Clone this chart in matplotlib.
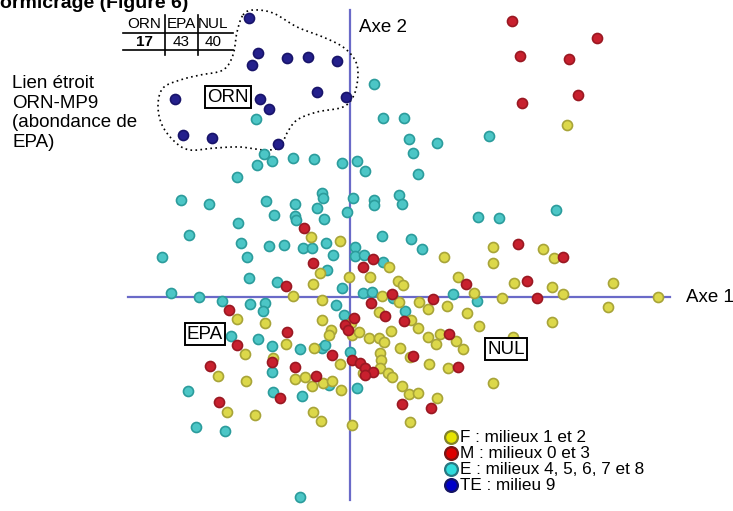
import numpy as np
import matplotlib
matplotlib.use("Agg")
import matplotlib.pyplot as plt

plt.rcParams['font.family'] = ['Liberation Sans', 'DejaVu Sans']

# factor scores (axis 1, axis 2), one list per group of milieux
te_pts = [(-101, 279), (-92, 244), (-98, 232), (-63, 239), (-42, 240), (-13, 236),
          (-33, 205), (-4, 200), (-175, 198), (-90, 198), (-81, 188), (-167, 162),
          (-138, 159), (-72, 153)]

m_pts = [(162, 276), (247, 259), (170, 241), (219, 238), (228, 202), (172, 194),
         (168, 53), (-46, 69), (-37, 34), (-64, 11), (-121, -13), (-5, -28),
         (-2, -33), (-63, -35), (-113, -48), (-18, -58), (-78, -65), (-140, -69),
         (-55, -70), (2, -63), (10, -66), (15, -71), (23, 38), (13, 30), (213, 40),
         (116, 13), (177, 16), (42, 3), (21, -6), (83, -2), (187, -1), (35, -19),
         (54, -24), (4, -21), (99, -37), (63, -59), (108, -70), (23, -75),
         (15, -78), (52, -107), (81, -111), (-34, -79), (-70, -101), (-131, -105)]

f_pts = [(217, 172), (143, 50), (193, 48), (-39, 60), (-10, 56), (-30, 24), (-1, 20),
         (-37, 13), (-57, 1), (-28, -3), (-113, -22), (-85, -26), (-28, -23), (1, -26),
         (-19, -33), (-21, -38), (2, -38), (-64, -47), (-36, -51), (-105, -57),
         (-77, -61), (-10, -67), (39, 30), (20, 20), (94, 40), (143, 34), (204, 39),
         (108, 20), (48, 16), (53, 12), (164, 14), (202, 10), (263, 14), (32, 1),
         (49, -5), (69, -5), (124, 4), (152, -1), (213, 3), (308, 0), (258, -10),
         (97, -9), (78, -12), (29, -15), (61, -23), (117, -16), (202, -25), (129, -29),
         (9, -35), (41, -34), (68, -31), (19, -41), (29, -41), (34, -45), (78, -40),
         (90, -37), (86, -47), (106, -44), (113, -52), (163, -40), (50, -51), (30, -56),
         (31, -63), (60, -60), (79, -67), (98, -71), (30, -71), (13, -76), (38, -76),
         (42, -80), (52, -89), (59, -97), (68, -96), (87, -101), (60, -125), (2, -128),
         (143, -86), (-132, -79), (-104, -84), (-55, -82), (-45, -80), (-38, -89),
         (-27, -86), (-18, -84), (-9, -93), (-123, -115), (-95, -118), (-37, -115),
         (-29, -124)]

e_pts = [(24, 213), (33, 179), (54, 179), (59, 158), (87, 154), (139, 161), (63, 144),
         (7, 136), (15, 126), (68, 123), (3, 99), (24, 97), (24, 92), (49, 102),
         (52, 93), (128, 80), (149, 79), (206, 87), (32, 61), (61, 58), (5, 50),
         (72, 48), (-94, 178), (-86, 143), (-78, 136), (-93, 132), (-57, 139),
         (-36, 138), (-8, 134), (-113, 120), (-169, 97), (-141, 93), (-84, 96),
         (-55, 93), (-28, 104), (-27, 99), (-33, 89), (-3, 85), (-76, 82), (-55, 81),
         (-54, 77), (-26, 78), (-112, 74), (-161, 62), (-24, 54), (-109, 54), (-81, 51),
         (-66, 52), (-47, 49), (-38, 49), (-188, 40), (-103, 40), (-17, 42), (-23, 27),
         (-101, 19), (-73, 15), (-8, 9), (-179, 4), (-151, 0), (-128, -4), (-100, -7),
         (-85, -6), (-14, -8), (-87, -14), (-6, -18), (-119, -39), (-92, -42),
         (-78, -49), (-50, -52), (-28, -51), (-25, -48), (0, -55), (5, 41), (14, 42),
         (33, 35), (13, 4), (22, 5), (43, -1), (103, 3), (127, -4), (55, -14), (7, -91),
         (-78, -75), (-21, -88), (-162, -94), (-77, -95), (-48, -99), (-154, -130),
         (-125, -134), (-50, -200)]

# dotted envelope around the ORN group
orn_zone = [(-107, 282), (-97, 287), (-77, 284), (-53, 270), (-27, 260), (-7, 250),
            (5, 237), (8, 222), (4, 202), (-7, 190), (-33, 185), (-53, 177), (-63, 164),
            (-70, 150), (-85, 147), (-110, 150), (-135, 149), (-160, 147), (-175, 155),
            (-188, 172), (-192, 192), (-187, 209), (-170, 217), (-150, 222), (-127, 227),
            (-117, 242), (-113, 265)]

table_head = ["ORN", "EPA", "NUL"]
table_vals = ["17", "43", "40"]

legend_labels = ["F : milieux 1 et 2", "M : milieux 0 et 3",
                 "E : milieux 4, 5, 6, 7 et 8", "TE : milieu 9"]


def smooth_closed(pts, n=20):
    # closed Catmull-Rom curve through the envelope vertices
    p = np.array(pts, dtype=float)
    out = []
    k = len(p)
    for i in range(k):
        p0, p1, p2, p3 = p[i - 1], p[i], p[(i + 1) % k], p[(i + 2) % k]
        for t in np.linspace(0, 1, n, endpoint=False):
            t2, t3 = t * t, t * t * t
            out.append(0.5 * ((2 * p1) + (-p0 + p2) * t +
                              (2 * p0 - 5 * p1 + 4 * p2 - p3) * t2 +
                              (-p0 + 3 * p1 - 3 * p2 + p3) * t3))
    out.append(out[0])
    return np.array(out)


fig = plt.figure(figsize=(7.33, 5.11), dpi=100)
ax = fig.add_axes([0, 0, 1, 1])
ax.set_xlim(-350, 383)
ax.set_ylim(-214, 297)
ax.axis('off')

# factorial axes
axis_col = '#6a6ac8'
ax.plot([0, 0], [-203, 287], color=axis_col, lw=1.6, zorder=1)
ax.plot([-222, 320], [0, 0], color=axis_col, lw=1.6, zorder=1)

groups = [
    (e_pts, '#4cc6c6', '#2b9c9c'),
    (f_pts, '#dcd84a', '#a8a438'),
    (m_pts, '#c8202e', '#9a1822'),
    (te_pts, '#24208c', '#18146a'),
]
for pts, fc, ec in groups:
    xy = np.array(pts)
    ax.scatter(xy[:, 0], xy[:, 1], s=52, facecolor=fc, edgecolor=ec,
               linewidth=1.2, zorder=3)

zone = smooth_closed(orn_zone)
ax.plot(zone[:, 0], zone[:, 1], color='black', lw=1.2, ls=(0, (1, 2)), zorder=2)

# labels
ax.text(-350, 289, "ormicrage (Figure 6)", fontsize=14, fontweight='bold',
        va='baseline', ha='left')
ax.text(9, 270, "Axe 2", fontsize=13.5, va='center', ha='left')
ax.text(336, 0, "Axe 1", fontsize=13.5, va='center', ha='left')
ax.text(-338, 222, "Lien étroit\nORN-MP9\n(abondance de\nEPA)", fontsize=13.5,
        va='top', ha='left', linespacing=1.2)

box = dict(boxstyle='square,pad=0.12', facecolor='white', edgecolor='black', lw=1.4)
ax.text(-122, 200, "ORN", fontsize=13.5, ha='center', va='center', bbox=box, zorder=4)
ax.text(-145, -37, "EPA", fontsize=13.5, ha='center', va='center', bbox=box, zorder=4)
ax.text(156, -52, "NUL", fontsize=13.5, ha='center', va='center', bbox=box, zorder=4)

# small count table
col_x = [-206, -169, -137]
for cx, h, v in zip(col_x, table_head, table_vals):
    ax.text(cx, 273, h, fontsize=11, ha='center', va='center')
    ax.text(cx, 255, v, fontsize=11, ha='center', va='center',
            fontweight='bold' if h == "ORN" else 'normal')
for yl in (264, 247):
    ax.plot([-227, -117], [yl, yl], color='black', lw=1.2)
for xl in (-185, -152):
    ax.plot([xl, xl], [242, 282], color='black', lw=1.2)

# legend
leg_fc = ['#e6e400', '#dc0000', '#30dcdc', '#0000c8']
leg_ec = ['#828228', '#781414', '#287882', '#141464']
for i, (lab, fc, ec) in enumerate(zip(legend_labels, leg_fc, leg_ec)):
    yy = -140 - 16 * i
    ax.scatter([101], [yy], s=85, facecolor=fc, edgecolor=ec, linewidth=1.6, zorder=5)
    ax.text(110, yy, lab, fontsize=12.3, ha='left', va='center', zorder=5)

fig.savefig("out.png", dpi=100)
